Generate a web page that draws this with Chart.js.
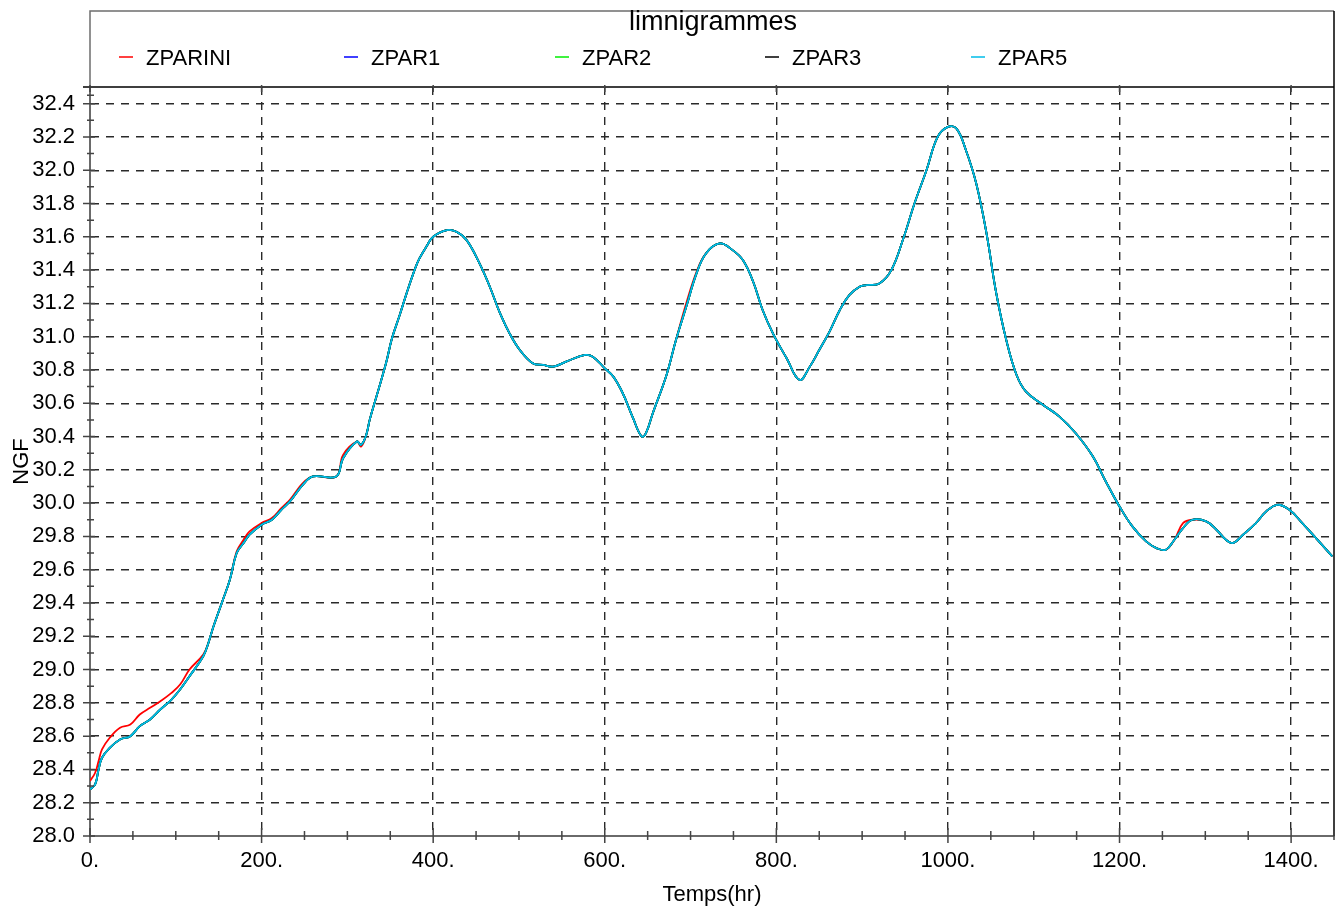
<!DOCTYPE html>
<html>
<head>
<meta charset="utf-8">
<title>limnigrammes</title>
<script src="https://cdn.jsdelivr.net/npm/chart.js@4.4.1/dist/chart.umd.min.js"></script>
<style>
  html, body { margin: 0; padding: 0; background: #fff; }
  #wrap { width: 1341px; height: 909px; }
</style>
</head>
<body>
<div id="wrap"><canvas id="graphe" width="1341" height="909"></canvas></div>
<script>
// temps (hr) communs à toutes les séries
const temps = [
  0, 6, 10, 14, 23, 35, 47, 58, 70, 82, 95, 105, 116, 132, 138, 144, 155, 163, 171, 179,
  186, 200, 212, 223, 233, 248, 260, 287, 295, 311, 316, 322, 326, 335, 345, 352, 361, 369, 379, 384,
  392, 400, 416, 427, 439, 454, 466, 478, 489, 501, 516, 528, 540, 555, 577, 586, 600, 610, 621, 633,
  643, 648, 656, 672, 683, 695, 707, 718, 734, 749, 761, 773, 784, 796, 812, 827, 839, 850, 862, 874,
  885, 897, 905, 920, 934, 948, 961, 975, 988, 1000, 1010, 1021, 1033, 1045, 1056, 1068, 1080, 1091, 1111, 1130,
  1149, 1169, 1184, 1200, 1215, 1231, 1243, 1254, 1264, 1274, 1285, 1301, 1313, 1324, 1332, 1344, 1359, 1371, 1384, 1398,
  1413, 1429, 1448
];

// cote NGF - simulation initiale
const zparIni = [
  28.33, 28.38, 28.45, 28.52, 28.59, 28.65, 28.67, 28.73, 28.77, 28.81, 28.86, 28.91, 29.00, 29.09, 29.16, 29.26, 29.42, 29.54, 29.71, 29.78,
  29.83, 29.88, 29.91, 29.97, 30.02, 30.12, 30.16, 30.16, 30.29, 30.37, 30.34, 30.41, 30.50, 30.66, 30.84, 30.99, 31.13, 31.26, 31.41, 31.47,
  31.54, 31.60, 31.64, 31.63, 31.58, 31.44, 31.30, 31.14, 31.02, 30.92, 30.84, 30.83, 30.82, 30.85, 30.89, 30.88, 30.81, 30.76, 30.66, 30.51,
  30.40, 30.42, 30.54, 30.77, 30.98, 31.20, 31.39, 31.50, 31.56, 31.52, 31.46, 31.33, 31.16, 31.02, 30.87, 30.74, 30.82, 30.92, 31.03, 31.16,
  31.25, 31.30, 31.31, 31.32, 31.40, 31.59, 31.80, 32.00, 32.20, 32.26, 32.25, 32.12, 31.92, 31.62, 31.27, 30.98, 30.77, 30.67, 30.59, 30.52,
  30.42, 30.28, 30.13, 29.98, 29.86, 29.77, 29.73, 29.72, 29.78, 29.88, 29.90, 29.89, 29.84, 29.78, 29.76, 29.81, 29.88, 29.95, 29.99, 29.96,
  29.88, 29.79, 29.68
];

// cote NGF - jeux de paramètres ZPAR1, ZPAR2, ZPAR3, ZPAR5 (courbes confondues)
const zparCalc = [
  28.28, 28.31, 28.40, 28.47, 28.53, 28.58, 28.60, 28.66, 28.70, 28.76, 28.82, 28.88, 28.96, 29.08, 29.16, 29.26, 29.42, 29.54, 29.70, 29.76,
  29.81, 29.87, 29.90, 29.96, 30.01, 30.11, 30.16, 30.16, 30.27, 30.37, 30.35, 30.41, 30.50, 30.66, 30.84, 30.99, 31.13, 31.26, 31.41, 31.47,
  31.54, 31.60, 31.64, 31.63, 31.58, 31.44, 31.30, 31.14, 31.02, 30.92, 30.84, 30.83, 30.82, 30.85, 30.89, 30.88, 30.81, 30.76, 30.66, 30.51,
  30.40, 30.42, 30.54, 30.77, 30.98, 31.18, 31.38, 31.50, 31.56, 31.52, 31.46, 31.33, 31.16, 31.02, 30.87, 30.74, 30.82, 30.92, 31.03, 31.16,
  31.25, 31.30, 31.31, 31.32, 31.40, 31.59, 31.80, 32.00, 32.20, 32.26, 32.25, 32.12, 31.92, 31.62, 31.27, 30.98, 30.77, 30.67, 30.59, 30.52,
  30.42, 30.28, 30.13, 29.98, 29.86, 29.77, 29.73, 29.72, 29.78, 29.85, 29.90, 29.89, 29.84, 29.78, 29.76, 29.81, 29.88, 29.95, 29.99, 29.96,
  29.88, 29.79, 29.68
];

const libelles = ['ZPARINI', 'ZPAR1', 'ZPAR2', 'ZPAR3', 'ZPAR5'];
const xTicks = [0, 200, 400, 600, 800, 1000, 1200, 1400];
const yTicks = [28.0, 28.2, 28.4, 28.6, 28.8, 29.0, 29.2, 29.4, 29.6, 29.8, 30.0, 30.2, 30.4, 30.6, 30.8,
  31.0, 31.2, 31.4, 31.6, 31.8, 32.0, 32.2, 32.4];

const couleurs = ['#ff0000', '#0000ff', '#00ee00', '#000000', '#00bde8'];
const valeurs = [zparIni, zparCalc, zparCalc, zparCalc, zparCalc];
const ordres = [4, 3, 2, 1, 0];

const police = "'Liberation Sans', Arial, Helvetica, sans-serif";
Chart.defaults.font.family = police;
Chart.defaults.color = '#000';

// Cadre, légende et petites graduations façon sortie de code hydraulique
const cadre = {
  id: 'cadre',
  afterDraw(chart) {
    const { ctx, chartArea: a, scales: { x, y } } = chart;
    ctx.save();

    // boîte de légende
    ctx.lineWidth = 1.5;
    ctx.strokeStyle = '#6e6e6e';
    ctx.beginPath();
    ctx.moveTo(a.left, a.top);
    ctx.lineTo(a.left, 11);
    ctx.lineTo(a.right, 11);
    ctx.stroke();
    ctx.strokeStyle = '#000';
    ctx.beginPath();
    ctx.moveTo(a.right, 11);
    ctx.lineTo(a.right, a.bottom);
    ctx.moveTo(a.left - 7, a.top);
    ctx.lineTo(a.right, a.top);
    ctx.stroke();

    // graduations
    ctx.strokeStyle = '#444';
    ctx.lineWidth = 1.5;
    ctx.beginPath();
    yTicks.forEach((v, i) => {
      const py = y.getPixelForValue(v);
      ctx.moveTo(a.left - 7, py); ctx.lineTo(a.left + 5, py);
      const suiv = yTicks[i + 1] !== undefined ? yTicks[i + 1] : y.max;
      const pm = y.getPixelForValue((v + suiv) / 2);
      ctx.moveTo(a.left - 3, pm); ctx.lineTo(a.left + 4, pm);
    });
    for (let t = 0; t <= x.max; t += 50) {
      const px = x.getPixelForValue(t);
      if (t % 200 === 0) {
        ctx.moveTo(px, a.bottom - 8); ctx.lineTo(px, a.bottom + 7);
        ctx.moveTo(px, a.top - 2); ctx.lineTo(px, a.top + 5);
      } else {
        ctx.moveTo(px, a.bottom - 5); ctx.lineTo(px, a.bottom + 4);
      }
    }
    ctx.stroke();

    // titre et entrées de légende
    ctx.fillStyle = '#000';
    ctx.textBaseline = 'middle';
    ctx.textAlign = 'center';
    ctx.font = '27px ' + police;
    ctx.fillText('limnigrammes', 713, 23);

    const colonnes = [146, 371, 582, 792, 998];
    ctx.font = '22px ' + police;
    ctx.textAlign = 'left';
    ctx.lineWidth = 1.5;
    libelles.forEach((nom, i) => {
      ctx.strokeStyle = couleurs[i];
      ctx.beginPath();
      ctx.moveTo(colonnes[i] - 27, 57);
      ctx.lineTo(colonnes[i] - 13, 57);
      ctx.stroke();
      ctx.fillText(nom, colonnes[i], 59);
    });
    ctx.restore();
  }
};

new Chart(document.getElementById('graphe'), {
  type: 'line',
  data: {
    datasets: libelles.map((nom, i) => ({
      label: nom,
      data: temps.map((t, k) => ({ x: t, y: valeurs[i][k] })),
      borderColor: couleurs[i],
      borderWidth: 1.8,
      pointRadius: 0,
      tension: 0.4,
      fill: false,
      order: ordres[i]
    }))
  },
  options: {
    responsive: false,
    animation: false,
    devicePixelRatio: 1,
    layout: { padding: { top: 87, right: 7, left: 0, bottom: 0 } },
    plugins: { legend: { display: false }, tooltip: { enabled: false } },
    scales: {
      x: {
        type: 'linear',
        min: 0,
        max: 1450,
        afterFit: s => { s.height = 73; },
        afterBuildTicks: s => { s.ticks = xTicks.map(v => ({ value: v })); },
        ticks: { callback: v => v + '.', font: { size: 22 }, color: '#000', padding: 12, maxRotation: 0, autoSkip: false },
        grid: { color: '#2a2a2a', lineWidth: 1.4, drawTicks: false },
        border: { display: true, color: '#6a6a6a', width: 2, dash: [8, 7] },
        title: { display: true, text: 'Temps(hr)', font: { size: 22 }, color: '#000', padding: { top: 0, bottom: 1 } }
      },
      y: {
        type: 'linear',
        min: 28,
        max: 32.5,
        afterFit: s => { s.width = 90; },
        afterBuildTicks: s => { s.ticks = yTicks.map(v => ({ value: v })); },
        ticks: { callback: v => Number(v).toFixed(1), font: { size: 22 }, color: '#000', padding: 15, autoSkip: false },
        grid: { color: '#2a2a2a', lineWidth: 1.4, drawTicks: false },
        border: { display: true, color: '#6a6a6a', width: 2, dash: [8, 7] },
        title: { display: true, text: 'NGF', font: { size: 22 }, color: '#000', padding: { top: 9, bottom: 0 } }
      }
    }
  },
  plugins: [cadre]
});
</script>
</body>
</html>
